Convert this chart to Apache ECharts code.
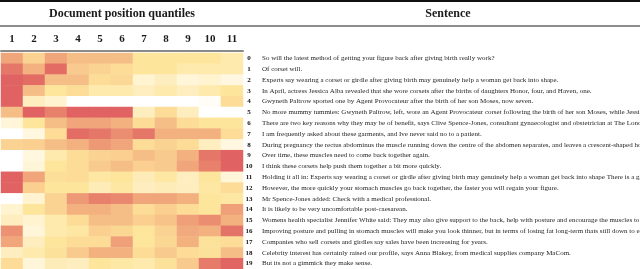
<!DOCTYPE html>
<html><head><meta charset="utf-8">
<script src="https://cdn.jsdelivr.net/npm/echarts@6/dist/echarts.min.js"></script>
<style>html,body{margin:0;padding:0;background:#fff}#c{width:640px;height:269px}</style>
</head><body><div id="c"></div>
<script>
const quantiles = ['1','2','3','4','5','6','7','8','9','10','11'];
const sentenceIds = ['0','1','2','3','4','5','6','7','8','9','10','11','12','13','14','15','16','17','18','19'];
const sentences = [
 'So will the latest method of getting your figure back after giving birth really work?',
 'Of corset will.',
 'Experts say wearing a corset or girdle after giving birth may genuinely help a woman get back into shape.',
 'In April, actress Jessica Alba revealed that she wore corsets after the births of daughters Honor, four, and Haven, one.',
 'Gwyneth Paltrow sported one by Agent Provocateur after the birth of her son Moses, now seven.',
 'No more mummy tummies: Gwyneth Paltrow, left, wore an Agent Provocateur corset following the birth of her son Moses, while Jessica Alba, right, wore one too.',
 'There are two key reasons why they may be of benefit, says Clive Spence-Jones, consultant gynaecologist and obstetrician at The London Clinic.',
 'I am frequently asked about these garments, and Ive never said no to a patient.',
 'During pregnancy the rectus abdominus the muscle running down the centre of the abdomen separates, and leaves a crescent-shaped hole.',
 'Over time, these muscles need to come back together again.',
 'I think these corsets help push them together a bit more quickly.',
 'Holding it all in: Experts say wearing a corset or girdle after giving birth may genuinely help a woman get back into shape There is a gap.',
 'However, the more quickly your stomach muscles go back together, the faster you will regain your figure.',
 'Mr Spence-Jones added: Check with a medical professional.',
 'It is likely to be very uncomfortable post-caesarean.',
 'Womens health specialist Jennifer White said: They may also give support to the back, help with posture and encourage the muscles to heal.',
 'Improving posture and pulling in stomach muscles will make you look thinner, but in terms of losing fat long-term thats still down to exercise.',
 'Companies who sell corsets and girdles say sales have been increasing for years.',
 'Celebrity interest has certainly raised our profile, says Anna Blakey, from medical supplies company MaCom.',
 'But its not a gimmick they make sense.'
];
// attention per sentence (rows) across quantiles (columns)
const row0  = [0.60,0.40,0.60,0.50,0.50,0.50,0.30,0.30,0.30,0.30,0.25];
const row1  = [0.80,0.55,0.85,0.45,0.40,0.35,0.30,0.30,0.25,0.25,0.25];
const row2  = [0.90,0.85,0.50,0.50,0.35,0.37,0.15,0.20,0.12,0.15,0.10];
const row3  = [0.90,0.50,0.30,0.35,0.25,0.25,0.20,0.25,0.20,0.25,0.30];
const row4  = [0.90,0.20,0.15,0.00,0.00,0.00,0.00,0.00,0.00,0.03,0.35];
const row5  = [0.50,0.90,0.75,0.90,0.90,0.90,0.20,0.35,0.20,0.00,0.00];
const row6  = [0.12,0.30,0.50,0.60,0.60,0.55,0.35,0.50,0.35,0.30,0.30];
const row7  = [0.00,0.10,0.35,0.85,0.80,0.70,0.80,0.55,0.55,0.55,0.35];
const row8  = [0.40,0.42,0.50,0.55,0.65,0.60,0.35,0.40,0.35,0.20,0.10];
const row9  = [0.00,0.10,0.25,0.35,0.40,0.42,0.50,0.45,0.55,0.80,0.90];
const row10 = [0.00,0.12,0.30,0.35,0.45,0.50,0.42,0.45,0.60,0.75,0.90];
const row11 = [0.90,0.60,0.33,0.35,0.28,0.30,0.22,0.28,0.20,0.30,0.12];
const row12 = [0.90,0.42,0.30,0.30,0.22,0.28,0.20,0.22,0.20,0.28,0.35];
const row13 = [0.00,0.15,0.40,0.65,0.75,0.72,0.60,0.60,0.55,0.30,0.28];
const row14 = [0.15,0.30,0.40,0.55,0.55,0.50,0.35,0.42,0.35,0.30,0.62];
const row15 = [0.20,0.15,0.25,0.35,0.50,0.50,0.42,0.48,0.62,0.70,0.55];
const row16 = [0.68,0.12,0.25,0.28,0.42,0.38,0.30,0.40,0.58,0.55,0.82];
const row17 = [0.60,0.20,0.30,0.35,0.35,0.62,0.30,0.38,0.55,0.32,0.35];
const row18 = [0.20,0.25,0.32,0.45,0.55,0.55,0.35,0.45,0.35,0.32,0.50];
const row19 = [0.35,0.12,0.22,0.20,0.30,0.27,0.25,0.32,0.45,0.78,0.88];
const rows = [row0,row1,row2,row3,row4,row5,row6,row7,row8,row9,row10,row11,row12,row13,row14,row15,row16,row17,row18,row19];

const data = [];
rows.forEach((r, i) => r.forEach((v, j) => data.push([j, i, v])));

const chart = echarts.init(document.getElementById('c'), null, {renderer: 'canvas'});
const serif = '"Liberation Serif", "DejaVu Serif", serif';
chart.setOption({
  animation: false,
  backgroundColor: '#fff',
  grid: {left: 1, right: 397, top: 53, bottom: 0, containLabel: false, outerBoundsMode: 'none'},
  xAxis: {
    type: 'category', data: quantiles, position: 'top', offset: 2,
    axisLine: {show: true, lineStyle: {color: '#8a8a8a', width: 2}},
    axisTick: {show: false}, splitLine: {show: false},
    axisLabel: {interval: 0, color: '#1a1a1a', fontFamily: serif, fontWeight: 'bold', fontSize: 11, margin: 6}
  },
  yAxis: {
    type: 'category', data: sentenceIds, inverse: true, position: 'right',
    axisLine: {show: false}, axisTick: {show: false}, splitLine: {show: false},
    axisLabel: {
      interval: 0, margin: 0, align: 'left', fontFamily: serif, hideOverlap: false,
      formatter: (v, i) => '{n|' + v + '}{s|' + sentences[i] + '}',
      rich: {
        n: {width: 12, align: 'right', fontFamily: serif, fontWeight: 'bold', fontSize: 7, color: '#111'},
        s: {padding: [0, 0, 0, 7], fontFamily: serif, fontSize: 7, color: '#1e1e1e'}
      }
    }
  },
  visualMap: {
    show: false, min: 0, max: 0.9, calculable: false,
    inRange: {color: ['#ffffff','#fff3d0','#fde59c','#f9ca8d','#f0a57a','#e8816c','#e06262']}
  },
  series: [{type: 'heatmap', data: data, itemStyle: {borderWidth: 0}, emphasis: {disabled: true}}],
  graphic: [
    {type: 'line', shape: {x1: 0, y1: 1, x2: 640, y2: 1}, style: {stroke: '#111', lineWidth: 2}},
    {type: 'line', shape: {x1: 0, y1: 26, x2: 640, y2: 26}, style: {stroke: '#666', lineWidth: 1.5}},
    {type: 'text', x: 122, y: 14, style: {text: 'Document position quantiles', font: 'bold 12px ' + serif, fill: '#1a1a1a', textAlign: 'center', textVerticalAlign: 'middle'}},
    {type: 'text', x: 448, y: 14, style: {text: 'Sentence', font: 'bold 12px ' + serif, fill: '#1a1a1a', textAlign: 'center', textVerticalAlign: 'middle'}}
  ]
});
</script></body></html>
